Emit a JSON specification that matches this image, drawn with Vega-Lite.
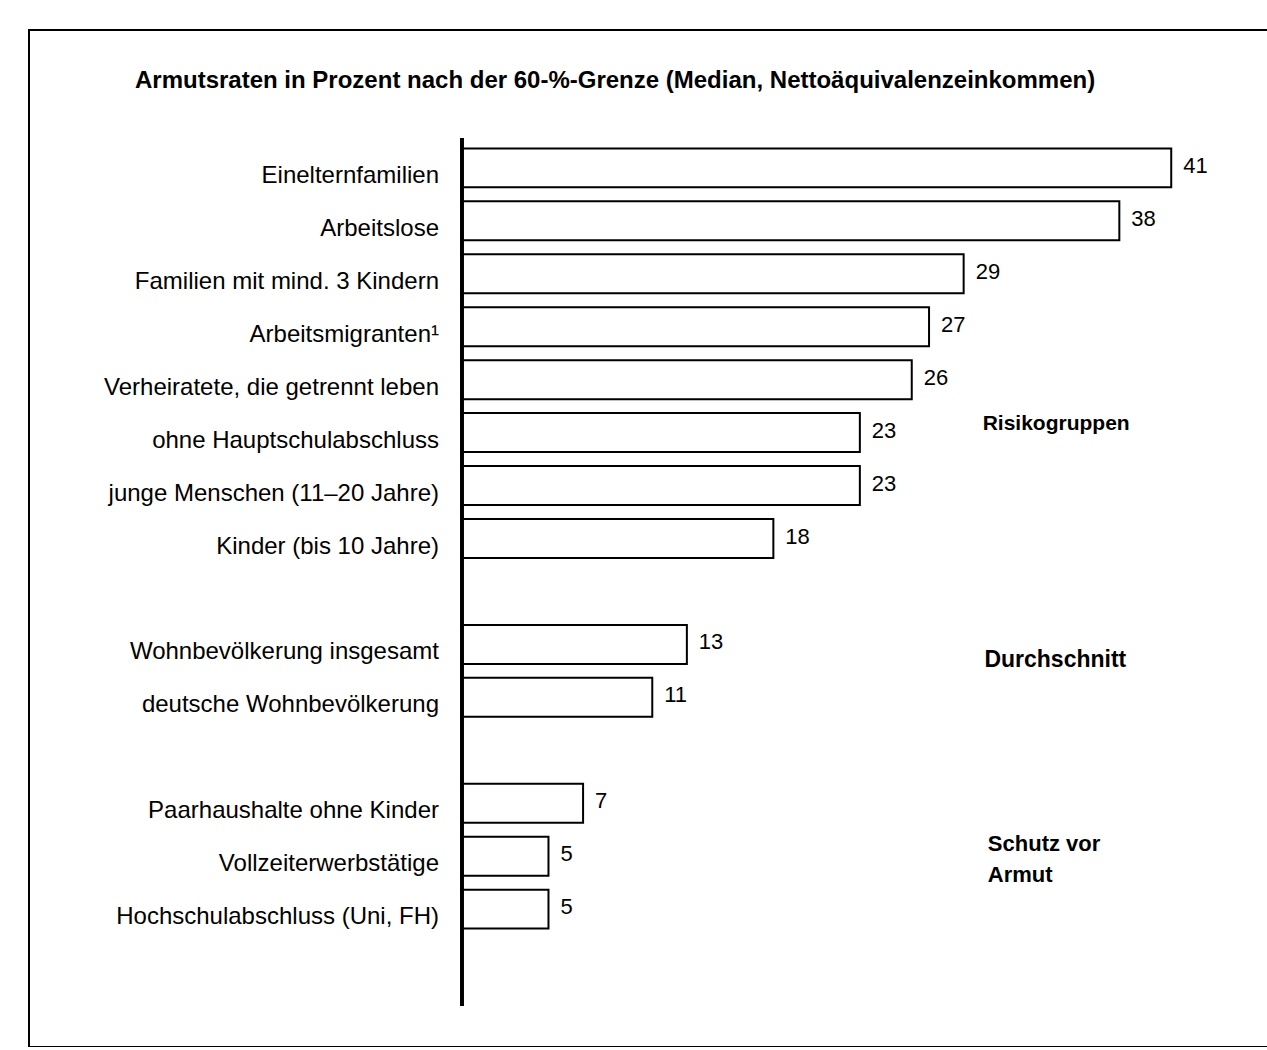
{
  "$schema": "https://vega.github.io/schema/vega-lite/v6.json",
  "autosize": "none",
  "padding": {"left": 29, "top": 30, "right": 0, "bottom": 0},
  "width": 1250,
  "height": 1017,
  "background": "white",
  "config": {
    "view": {"stroke": "black", "strokeWidth": 2},
    "font": "Liberation Sans",
    "text": {"font": "Liberation Sans"}
  },
  "title": {
    "text": "Armutsraten in Prozent nach der 60-%-Grenze (Median, Nettoäquivalenzeinkommen)",
    "anchor": "start",
    "frame": "group",
    "dx": 106,
    "offset": -75,
    "baseline": "middle",
    "fontSize": 24,
    "fontWeight": "bold",
    "font": "Liberation Sans",
    "color": "black"
  },
  "datasets": {
    "rates": [
      {"label": "Einelternfamilien", "value": 41},
      {"label": "Arbeitslose", "value": 38},
      {"label": "Familien mit mind. 3 Kindern", "value": 29},
      {"label": "Arbeitsmigranten¹", "value": 27},
      {"label": "Verheiratete, die getrennt leben", "value": 26},
      {"label": "ohne Hauptschulabschluss", "value": 23},
      {"label": "junge Menschen (11–20 Jahre)", "value": 23},
      {"label": "Kinder (bis 10 Jahre)", "value": 18},
      {"label": "Wohnbevölkerung insgesamt", "value": 13},
      {"label": "deutsche Wohnbevölkerung", "value": 11},
      {"label": "Paarhaushalte ohne Kinder", "value": 7},
      {"label": "Vollzeiterwerbstätige", "value": 5},
      {"label": "Hochschulabschluss (Uni, FH)", "value": 5}
    ],
    "groups": [
      {"group": "Risikogruppen", "row": "ohne Hauptschulabschluss"},
      {"group": "Durchschnitt", "row": "Wohnbevölkerung insgesamt"},
      {"group": "Schutz vor\nArmut", "row": "Vollzeiterwerbstätige"}
    ]
  },
  "data": {"name": "rates"},
  "encoding": {
    "y": {
      "field": "label",
      "type": "nominal",
      "sort": null,
      "axis": null,
      "scale": {
        "domain": ["sp1", "sp2", "Einelternfamilien", "Arbeitslose", "Familien mit mind. 3 Kindern", "Arbeitsmigranten¹", "Verheiratete, die getrennt leben", "ohne Hauptschulabschluss", "junge Menschen (11–20 Jahre)", "Kinder (bis 10 Jahre)", "sp3", "Wohnbevölkerung insgesamt", "deutsche Wohnbevölkerung", "sp4", "Paarhaushalte ohne Kinder", "Vollzeiterwerbstätige", "Hochschulabschluss (Uni, FH)", "sp5", "sp6"],
        "paddingInner": 0.264,
        "paddingOuter": 0.236
      }
    }
  },
  "layer": [
    {
      "mark": {"type": "bar", "fill": "white", "stroke": "black", "strokeWidth": 2},
      "encoding": {
        "x": {
          "field": "value",
          "type": "quantitative",
          "axis": null,
          "scale": {"domain": [-25.03, 47.23], "nice": false, "zero": false}
        },
        "x2": {"datum": 0}
      }
    },
    {
      "mark": {"type": "text", "align": "left", "baseline": "middle", "dx": 12, "dy": -2, "fontSize": 22, "color": "black"},
      "encoding": {
        "x": {"field": "value", "type": "quantitative"},
        "text": {"field": "value", "type": "quantitative"}
      }
    },
    {
      "mark": {"type": "text", "align": "right", "baseline": "middle", "dx": -23, "dy": 8, "fontSize": 24, "color": "black"},
      "encoding": {
        "x": {"datum": 0},
        "text": {"field": "label", "type": "nominal"}
      }
    },
    {
      "mark": {"type": "rule", "color": "black", "strokeWidth": 2.5},
      "encoding": {
        "x": {"datum": 0},
        "y": {"datum": "sp2", "bandPosition": 1.09},
        "y2": {"datum": "sp6", "bandPosition": 0.27}
      }
    },
    {
      "data": {"name": "groups"},
      "transform": [{"filter": "datum.group == 'Risikogruppen'"}],
      "mark": {"type": "text", "align": "left", "baseline": "middle", "dy": -9, "fontSize": 21, "fontWeight": "bold", "color": "black"},
      "encoding": {
        "x": {"datum": 30.1},
        "y": {"field": "row", "type": "nominal"},
        "text": {"field": "group", "type": "nominal"}
      }
    },
    {
      "data": {"name": "groups"},
      "transform": [{"filter": "datum.group == 'Durchschnitt'"}],
      "mark": {"type": "text", "align": "left", "baseline": "middle", "dy": 16, "fontSize": 23, "fontWeight": "bold", "color": "black"},
      "encoding": {
        "x": {"datum": 30.2},
        "y": {"field": "row", "type": "nominal"},
        "text": {"field": "group", "type": "nominal"}
      }
    },
    {
      "data": {"name": "groups"},
      "transform": [{"filter": "indexof(datum.group, 'Schutz') == 0"}],
      "mark": {"type": "text", "align": "left", "baseline": "middle", "dy": -12, "lineBreak": "\n", "lineHeight": 31, "fontSize": 22, "fontWeight": "bold", "color": "black"},
      "encoding": {
        "x": {"datum": 30.4},
        "y": {"field": "row", "type": "nominal"},
        "text": {"field": "group", "type": "nominal"}
      }
    }
  ]
}
